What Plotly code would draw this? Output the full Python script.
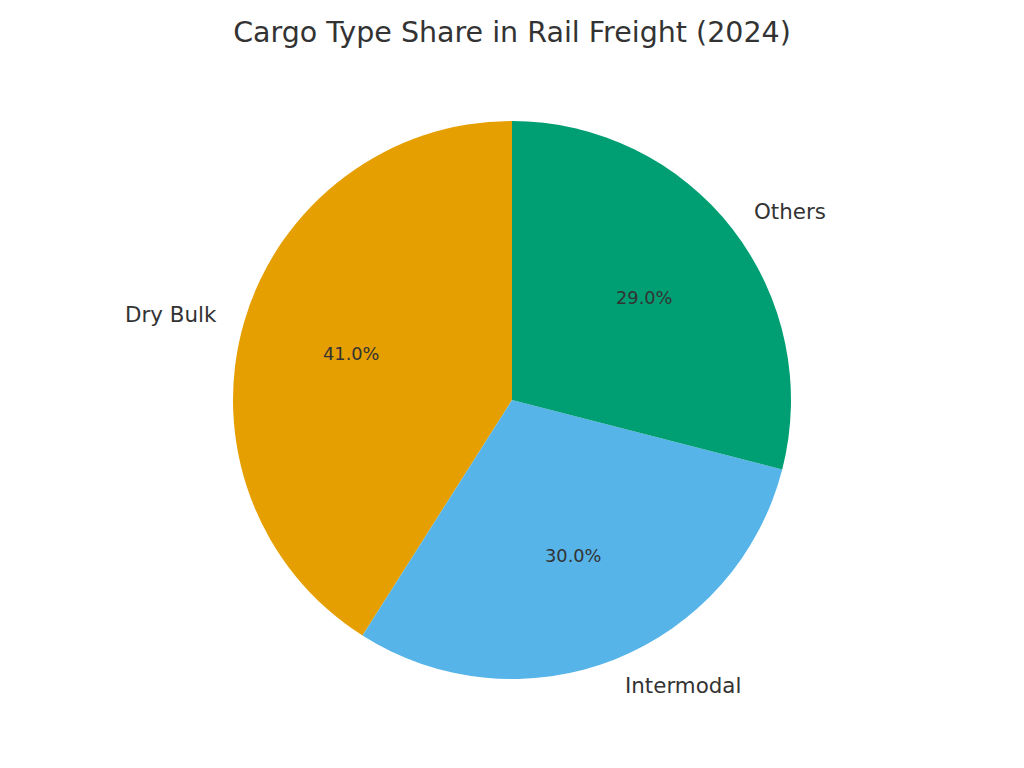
import math
import plotly.graph_objects as go

categories = ["Dry Bulk", "Intermodal", "Others"]
shares = [41.0, 30.0, 29.0]
colors = ["#E69F00", "#56B4E9", "#009E73"]
title_text = "Cargo Type Share in Rail Freight (2024)"

# page offset of 8px (default body margin) compensated in figure size
W, H = 1016, 760
cx, cy, R = 504, 392, 279
m_t = cy - R
m_b = H - (cy + R)

total = sum(shares)

fig = go.Figure(go.Pie(
    labels=categories, values=shares, sort=False,
    direction="counterclockwise", rotation=-360.0 * shares[0] / total,
    marker=dict(colors=colors, line=dict(width=0)),
    textinfo="none", hoverinfo="label+percent", showlegend=False,
    domain=dict(x=[(cx - R) / W, (cx + R) / W], y=[0, 1]),
))

start = 90.0
annotations = []
for lab, v in zip(categories, shares):
    span = 360.0 * v / total
    mid = math.radians(start + span / 2)
    start += span
    c, s = math.cos(mid), math.sin(mid)
    annotations.append(dict(
        x=(cx + 0.6 * c * R) / W, y=0.5 + 0.6 * s * 0.5, xref="paper", yref="paper",
        text=f"{v / total * 100:.1f}%", showarrow=False, xanchor="center", yanchor="middle",
        borderpad=0, borderwidth=0,
        font=dict(family="DejaVu Sans", size=17.8, color="#333333")))
    annotations.append(dict(
        x=(cx + 1.1 * c * R) / W, y=0.5 + 1.1 * s * 0.5, xref="paper", yref="paper",
        text=lab, showarrow=False, xanchor="left" if c > 0 else "right", yanchor="middle",
        borderpad=0, borderwidth=0,
        font=dict(family="DejaVu Sans", size=21.4, color="#333333")))

fig.update_layout(
    width=W, height=H,
    margin=dict(l=0, r=0, t=m_t, b=m_b),
    paper_bgcolor="white", plot_bgcolor="white",
    title=dict(text=title_text, x=cx / W, xanchor="center", y=1 - 24 / H, yanchor="middle",
               font=dict(family="DejaVu Sans", size=28.5, color="#333333")),
    annotations=annotations,
)
fig.write_html("out.html")
